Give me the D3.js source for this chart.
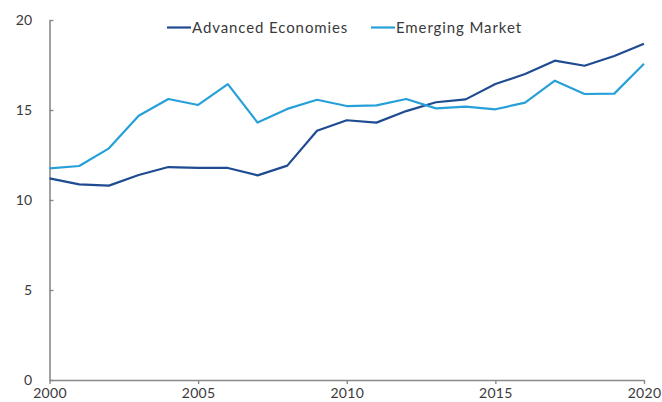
<!DOCTYPE html>
<html>
<head>
<meta charset="utf-8">
<script src="https://cdn.jsdelivr.net/npm/d3@7"></script>
<style>
  body { margin: 0; background: #fff; }
  text { font-family: Lato, "Open Sans", sans-serif; fill: #3a3a3a; }
</style>
</head>
<body>
<div id="chart"></div>
<script>
var years = d3.range(2000, 2021);
var advanced = [11.2, 10.87, 10.8, 11.39, 11.83, 11.78, 11.78, 11.37, 11.91, 13.85, 14.43,
                14.3, 14.94, 15.43, 15.59, 16.44, 17.0, 17.74, 17.46, 18.0, 18.68];
var emerging = [11.76, 11.89, 12.87, 14.68, 15.61, 15.28, 16.44, 14.3, 15.06, 15.57, 15.22,
                15.26, 15.61, 15.09, 15.19, 15.04, 15.41, 16.63, 15.89, 15.91, 17.57];
var xTicks = [2000, 2005, 2010, 2015, 2020];
var yTicks = [0, 5, 10, 15, 20];
var seriesNames = ["Advanced Economies", "Emerging Market"];
var colors = ["#1f4b91", "#27a0d9"];

var svgWidth = 662, svgHeight = 402;
var svg = d3.select("#chart").append("svg")
    .attr("width", svgWidth)
    .attr("height", svgHeight);

var xScale = d3.scaleLinear().domain([2000, 2020]).range([49.5, 644]);
var yScale = d3.scaleLinear().domain([0, 20]).range([380, 20]);

// axes
var xAxis = d3.axisBottom(xScale).tickValues(xTicks).tickFormat(d3.format("d"))
    .tickSize(4).tickSizeOuter(0).tickPadding(4);
var yAxis = d3.axisLeft(yScale).tickValues(yTicks)
    .tickSize(-4).tickSizeOuter(0).tickPadding(17);

var gx = svg.append("g").attr("transform", "translate(0," + 380 + ")").call(xAxis);
var gy = svg.append("g").attr("transform", "translate(49.5,0)").call(yAxis);

[gx, gy].forEach(function (g) {
  g.select(".domain").attr("stroke", "#8a8a8a").attr("stroke-width", 1.6);
  g.selectAll(".tick line").attr("stroke", "#8a8a8a").attr("stroke-width", 1.4);
  g.selectAll(".tick text").attr("font-size", 14).attr("fill", "#3a3a3a")
      .attr("font-family", "Lato, sans-serif").attr("letter-spacing", 0.3);
});

// lines
var line = d3.line()
    .x(function (d, i) { return xScale(years[i]); })
    .y(function (d) { return yScale(d); });

[advanced, emerging].forEach(function (s, k) {
  svg.append("path")
      .datum(s)
      .attr("fill", "none")
      .attr("stroke", colors[k])
      .attr("stroke-width", 2.2)
      .attr("stroke-linejoin", "round")
      .attr("d", line);
});

// legend
var legendX = [167, 371];
seriesNames.forEach(function (name, k) {
  var g = svg.append("g").attr("transform", "translate(" + legendX[k] + ",27.5)");
  g.append("line").attr("x1", 0).attr("x2", 24).attr("y1", 0).attr("y2", 0)
      .attr("stroke", colors[k]).attr("stroke-width", 2.2);
  g.append("text").attr("x", 25).attr("y", 0).attr("dy", "0.35em")
      .attr("font-size", 15).attr("letter-spacing", 0.9).text(name);
});
</script>
</body>
</html>
